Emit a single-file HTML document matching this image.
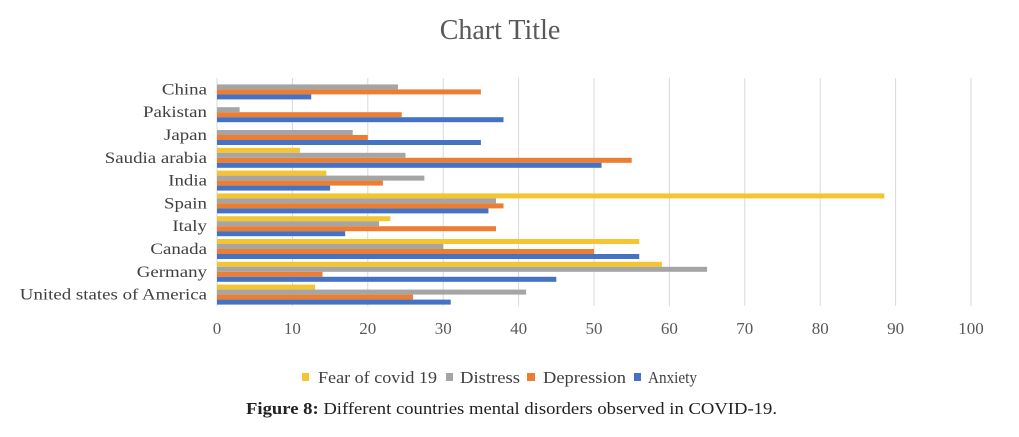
<!DOCTYPE html>
<html><head><meta charset="utf-8"><style>
body{margin:0;background:#fff;}
svg text{font-family:"Liberation Serif",serif;}
</style></head><body>
<svg width="1019" height="432" id="c">
<rect width="1019" height="432" fill="#fff"/>
<text x="500" y="39" text-anchor="middle" font-size="28" fill="#595959">Chart Title</text>
<g id="grid"></g><g id="bars"></g><g id="labels"></g>
<g font-size="17" fill="#404040">
<rect x="302" y="373" width="7" height="8" fill="#f5c431"/><text x="318" y="383" textLength="119" lengthAdjust="spacingAndGlyphs">Fear of covid 19</text>
<rect x="446" y="373" width="7" height="8" fill="#a5a5a5"/><text x="460" y="383" textLength="60" lengthAdjust="spacingAndGlyphs">Distress</text>
<rect x="527" y="373" width="8" height="8" fill="#ed7d31"/><text x="543" y="383" textLength="83" lengthAdjust="spacingAndGlyphs">Depression</text>
<rect x="634" y="373" width="7" height="8" fill="#4472c4"/><text x="648" y="383" textLength="49" lengthAdjust="spacingAndGlyphs">Anxiety</text>
</g>
<text x="246" y="414" textLength="531" lengthAdjust="spacingAndGlyphs" font-size="17" fill="#222"><tspan font-weight="bold">Figure 8:</tspan> Different countries mental disorders observed in COVID-19.</text>
</svg>
<script>
const categories=["China","Pakistan","Japan","Saudia arabia","India","Spain","Italy","Canada","Germany","United states of America"];
const fear=[0,0,0,11,14.5,88.5,23,56,59,13];
const distress=[24,3,18,25,27.5,37,21.5,30,65,41];
const depression=[35,24.5,20,55,22,38,37,50,14,26];
const anxiety=[12.5,38,35,51,15,36,17,56,45,31];
const ticks=[0,10,20,30,40,50,60,70,80,90,100];
const NS="http://www.w3.org/2000/svg";
const x0=217,x1=971,yTop=78,yBot=306;
const xs=v=>x0+(x1-x0)*v/100;
const band=(yBot-yTop)/categories.length;
function mk(t,a,p){const e=document.createElementNS(NS,t);for(const k in a)e.setAttribute(k,a[k]);p.appendChild(e);return e;}
const g=document.getElementById('grid'),b=document.getElementById('bars'),l=document.getElementById('labels');
ticks.forEach(t=>{
 const ln=mk('line',{x1:xs(t),x2:xs(t),y1:yTop,y2:yBot,stroke:'#d9d9d9','stroke-width':1},g);
 
 
 const tx=mk('text',{x:xs(t),y:334,'text-anchor':'middle','font-size':17,fill:'#595959'},l);
 tx.textContent=t;
 
 
});
const series=[[fear,'#f5c431','fear'],[distress,'#a5a5a5','distress'],[depression,'#ed7d31','depression'],[anxiety,'#4472c4','anxiety']];
const bh=5;
categories.forEach((c,i)=>{
 const cy=yTop+band*(i+0.5);
 const tx=mk('text',{x:207,y:cy+5,'text-anchor':'end','font-size':16,fill:'#404040'},l);
 tx.textContent=c;
 
 
 const w=tx.getComputedTextLength();
 tx.setAttribute('textLength',w*1.18);
 tx.setAttribute('lengthAdjust','spacingAndGlyphs');
 series.forEach((s,j)=>{
  const v=s[0][i];
  const r=mk('rect',{x:x0,y:cy-10+j*bh,width:Math.max(0,xs(v)-x0),height:bh,fill:s[1]},b);
  
  
 });
});
</script>
</body></html>
